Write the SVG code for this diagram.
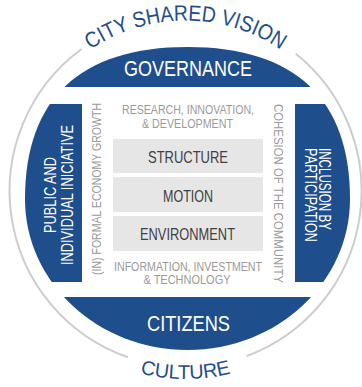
<svg xmlns="http://www.w3.org/2000/svg" width="362" height="387" viewBox="0 0 362 387">
<style>
.blue{fill:#1f4e8c}
.wt{fill:#ffffff;font-family:"Liberation Sans",Arial,sans-serif}
.gt{fill:#9a9a9a;font-family:"Liberation Sans",Arial,sans-serif}
.bt{fill:#404040;font-family:"Liberation Sans",Arial,sans-serif}
.box{fill:#e6e6e6}
.ring{fill:none;stroke:#cdcdcd;stroke-width:2}
.arc{fill:#1f4e8c;font-family:"Liberation Sans",Arial,sans-serif}
</style>
<defs>
<clipPath id="disk">
<path d="M187.5,47 C80.25,47 25,98.7 25,199 C25,282.4 97.8,350 187.5,350 C277.2,350 350,282.4 350,199 C350,98.7 294.75,47 187.5,47 Z"/>
</clipPath>
<path id="topArc" d="M15,191 A170.5,170.5 0 0 1 356,191"/>
<path id="botArc" d="M-2.5,191 A188,188 0 0 0 373.5,191"/>
</defs>
<rect width="362" height="387" fill="#ffffff"/>
<g id="ring">
<path class="ring" d="M295.8,53.8 A176,176 0 0 1 246.6,356.1"/>
<path class="ring" d="M127.9,357.3 A176,176 0 0 1 81.6,49"/>
</g>
<g id="vision">
<text class="arc" font-size="22"><textPath href="#topArc" startOffset="50%" text-anchor="middle" textLength="202" lengthAdjust="spacingAndGlyphs">CITY SHARED VISION</textPath></text>
</g>
<g id="culture">
<text class="arc" font-size="20"><textPath href="#botArc" startOffset="50%" text-anchor="middle" textLength="92" lengthAdjust="spacingAndGlyphs">CULTURE</textPath></text>
</g>
<g id="governance">
<rect class="blue" x="0" y="0" width="362" height="87" clip-path="url(#disk)"/>
<text class="wt" x="188" y="76" font-size="22" text-anchor="middle" textLength="128" lengthAdjust="spacingAndGlyphs">GOVERNANCE</text>
</g>
<g id="citizens">
<rect class="blue" x="0" y="297" width="362" height="90" clip-path="url(#disk)"/>
<text class="wt" x="188.5" y="331" font-size="22" text-anchor="middle" textLength="83" lengthAdjust="spacingAndGlyphs">CITIZENS</text>
</g>
<g id="public-initiative">
<rect class="blue" x="0" y="104" width="82" height="178" clip-path="url(#disk)"/>
<text class="wt" transform="translate(56,195) rotate(-90)" font-size="17" text-anchor="middle" textLength="76" lengthAdjust="spacingAndGlyphs">PUBLIC AND</text>
<text class="wt" transform="translate(73,195) rotate(-90)" font-size="17" text-anchor="middle" textLength="140" lengthAdjust="spacingAndGlyphs">INDIVIDUAL INICIATIVE</text>
</g>
<g id="inclusion">
<rect class="blue" x="295" y="104" width="67" height="178" clip-path="url(#disk)"/>
<text class="wt" transform="translate(319,148) rotate(90)" font-size="17" textLength="82" lengthAdjust="spacingAndGlyphs">INCLUSION BY</text>
<text class="wt" transform="translate(305,148) rotate(90)" font-size="17" textLength="94" lengthAdjust="spacingAndGlyphs">PARTICIPATION</text>
</g>
<g id="growth">
<text class="gt" transform="translate(101,189) rotate(-90)" font-size="12.5" text-anchor="middle" textLength="172" lengthAdjust="spacingAndGlyphs">(IN) FORMAL ECONOMY GROWTH</text>
</g>
<g id="cohesion">
<text class="gt" transform="translate(274,193.5) rotate(90)" font-size="13" text-anchor="middle" textLength="179" lengthAdjust="spacingAndGlyphs">COHESION OF THE COMMUNITY</text>
</g>
<g id="research">
<text class="gt" x="188" y="114" font-size="12" text-anchor="middle" textLength="132" lengthAdjust="spacingAndGlyphs">RESEARCH, INNOVATION,</text>
<text class="gt" x="187.5" y="127.5" font-size="12" text-anchor="middle" textLength="91" lengthAdjust="spacingAndGlyphs">&amp; DEVELOPMENT</text>
</g>
<g id="structure">
<rect class="box" x="113" y="139" width="150" height="34"/>
<text class="bt" x="188" y="163" font-size="17" text-anchor="middle" textLength="80" lengthAdjust="spacingAndGlyphs">STRUCTURE</text>
</g>
<g id="motion">
<rect class="box" x="113" y="177" width="150" height="35"/>
<text class="bt" x="188" y="202" font-size="17" text-anchor="middle" textLength="50" lengthAdjust="spacingAndGlyphs">MOTION</text>
</g>
<g id="environment">
<rect class="box" x="113" y="216" width="150" height="35"/>
<text class="bt" x="187.5" y="240" font-size="17" text-anchor="middle" textLength="95" lengthAdjust="spacingAndGlyphs">ENVIRONMENT</text>
</g>
<g id="information">
<text class="gt" x="188" y="270.5" font-size="12" text-anchor="middle" textLength="148" lengthAdjust="spacingAndGlyphs">INFORMATION, INVESTMENT</text>
<text class="gt" x="187" y="284" font-size="12" text-anchor="middle" textLength="87" lengthAdjust="spacingAndGlyphs">&amp; TECHNOLOGY</text>
</g>
<g id="connectors"></g>
</svg>
